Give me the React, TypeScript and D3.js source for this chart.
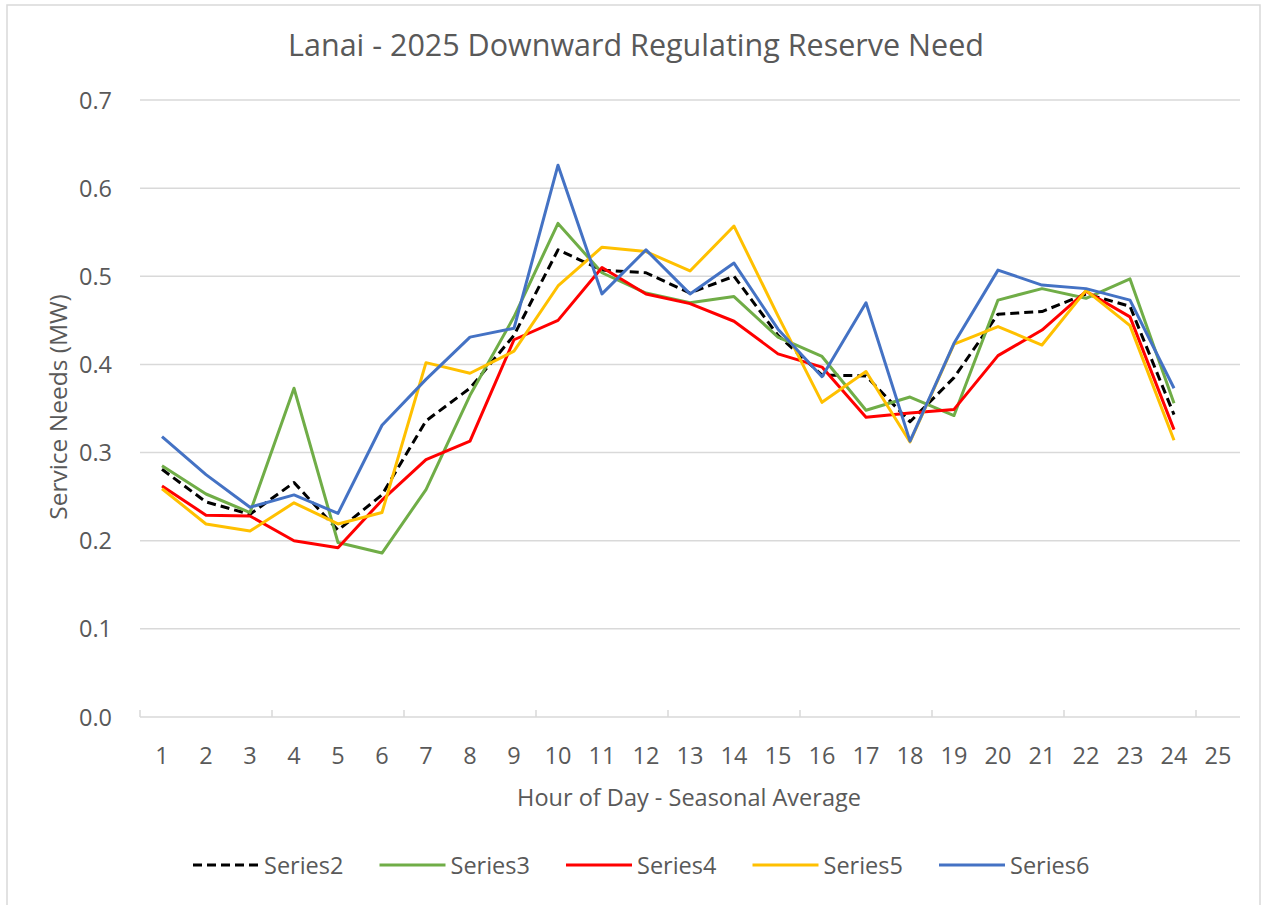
import React, { useEffect, useRef } from 'react';
import * as d3 from 'd3';

// hours on the category axis (25 slots, last one empty)
const hours = d3.range(1, 26).map(String);
const yTicks = [0, 0.1, 0.2, 0.3, 0.4, 0.5, 0.6, 0.7];

const series2 = [0.281, 0.244, 0.230, 0.266, 0.212, 0.252, 0.336, 0.373, 0.433, 0.530, 0.507, 0.504, 0.481, 0.500, 0.433, 0.388, 0.387, 0.335, 0.385, 0.457, 0.460, 0.480, 0.466, 0.343];
const series3 = [0.285, 0.253, 0.232, 0.373, 0.198, 0.186, 0.258, 0.365, 0.454, 0.560, 0.504, 0.481, 0.470, 0.477, 0.431, 0.409, 0.348, 0.363, 0.342, 0.473, 0.486, 0.475, 0.497, 0.356];
const series4 = [0.262, 0.229, 0.228, 0.200, 0.192, 0.246, 0.292, 0.313, 0.428, 0.450, 0.510, 0.480, 0.469, 0.449, 0.412, 0.397, 0.340, 0.345, 0.349, 0.410, 0.439, 0.483, 0.454, 0.326];
const series5 = [0.259, 0.219, 0.211, 0.243, 0.219, 0.232, 0.402, 0.390, 0.415, 0.489, 0.533, 0.528, 0.506, 0.557, 0.455, 0.357, 0.392, 0.312, 0.423, 0.443, 0.422, 0.484, 0.444, 0.314];
const series6 = [0.318, 0.275, 0.238, 0.252, 0.231, 0.331, 0.383, 0.431, 0.441, 0.626, 0.480, 0.530, 0.480, 0.515, 0.440, 0.386, 0.470, 0.313, 0.424, 0.507, 0.490, 0.486, 0.473, 0.373];

const seriesNames = ['Series2', 'Series3', 'Series4', 'Series5', 'Series6'];
const seriesColors = ['#000000', '#70AD47', '#FF0000', '#FFC000', '#4472C4'];

const W = 1267;
const H = 905;
const FONT = '"Open Sans", sans-serif';
const TEXT = '#595959';
const GRID = '#d9d9d9';

const App: React.FC = () => {
    const svgRef = useRef<SVGSVGElement | null>(null);

    useEffect(() => {
        if (!svgRef.current) return;
        const svg = d3.select(svgRef.current);
        svg.selectAll('*').remove();

        const allSeries = [series2, series3, series4, series5, series6];

        const x = d3.scaleBand<string>().domain(hours).range([140, 1240]);
        const y = d3.scaleLinear().domain([0, 0.7]).range([717, 100]);
        const cx = (i: number) => (x(hours[i]) as number) + x.bandwidth() / 2;

        // chart border
        svg.append('rect')
            .attr('x', 7).attr('y', 5).attr('width', 1253).attr('height', H)
            .attr('fill', 'white').attr('stroke', GRID).attr('stroke-width', 1.5);

        // title
        svg.append('text')
            .attr('x', 636).attr('y', 56)
            .attr('text-anchor', 'middle')
            .attr('font-size', 30.5).attr('fill', TEXT)
            .text('Lanai - 2025 Downward Regulating Reserve Need');

        // gridlines + y labels
        yTicks.forEach(t => {
            if (t > 0) {
                svg.append('line')
                    .attr('x1', 140).attr('x2', 1240)
                    .attr('y1', y(t)).attr('y2', y(t))
                    .attr('stroke', GRID).attr('stroke-width', 1.5);
            }
            svg.append('text')
                .attr('x', 112).attr('y', y(t) + 8.5)
                .attr('text-anchor', 'end')
                .attr('font-size', 23.5).attr('fill', TEXT)
                .text(d3.format('.1f')(t));
        });

        // x axis line + tick marks every 3 hours
        svg.append('line')
            .attr('x1', 140).attr('x2', 1240)
            .attr('y1', y(0)).attr('y2', y(0))
            .attr('stroke', GRID).attr('stroke-width', 1.5);
        hours.filter((_, i) => i % 3 === 0).forEach(h => {
            svg.append('line')
                .attr('x1', x(h) as number).attr('x2', x(h) as number)
                .attr('y1', y(0)).attr('y2', y(0) - 7)
                .attr('stroke', GRID).attr('stroke-width', 1.5);
        });

        // x labels
        hours.forEach((h, i) => {
            svg.append('text')
                .attr('x', cx(i)).attr('y', 764)
                .attr('text-anchor', 'middle')
                .attr('font-size', 23.5).attr('fill', TEXT)
                .text(h);
        });

        // axis titles
        svg.append('text')
            .attr('x', 689).attr('y', 806)
            .attr('text-anchor', 'middle')
            .attr('font-size', 23.5).attr('fill', TEXT)
            .text('Hour of Day - Seasonal Average');
        svg.append('text')
            .attr('transform', 'translate(67,407) rotate(-90)')
            .attr('text-anchor', 'middle')
            .attr('font-size', 24.5).attr('fill', TEXT)
            .text('Service Needs (MW)');

        // lines
        const line = d3.line<number>()
            .x((_, i) => cx(i))
            .y(d => y(d));

        allSeries.forEach((s, k) => {
            svg.append('path')
                .datum(s)
                .attr('d', line)
                .attr('fill', 'none')
                .attr('stroke', seriesColors[k])
                .attr('stroke-width', 3)
                .attr('stroke-linejoin', 'round')
                .attr('stroke-dasharray', k === 0 ? '9 5' : null);
        });

        // legend
        seriesNames.forEach((name, k) => {
            const lx = 193 + k * 186.5;
            svg.append('line')
                .attr('x1', lx).attr('x2', lx + 66)
                .attr('y1', 865).attr('y2', 865)
                .attr('stroke', seriesColors[k])
                .attr('stroke-width', 3)
                .attr('stroke-dasharray', k === 0 ? '9 5' : null);
            svg.append('text')
                .attr('x', lx + 71).attr('y', 873.5)
                .attr('font-size', 23.5).attr('fill', TEXT)
                .text(name);
        });
    }, []);

    return (
        <svg ref={svgRef} width={W} height={H}
            style={{ position: 'absolute', left: 0, top: 0, fontFamily: FONT, background: 'white' }} />
    );
};

export default App;
